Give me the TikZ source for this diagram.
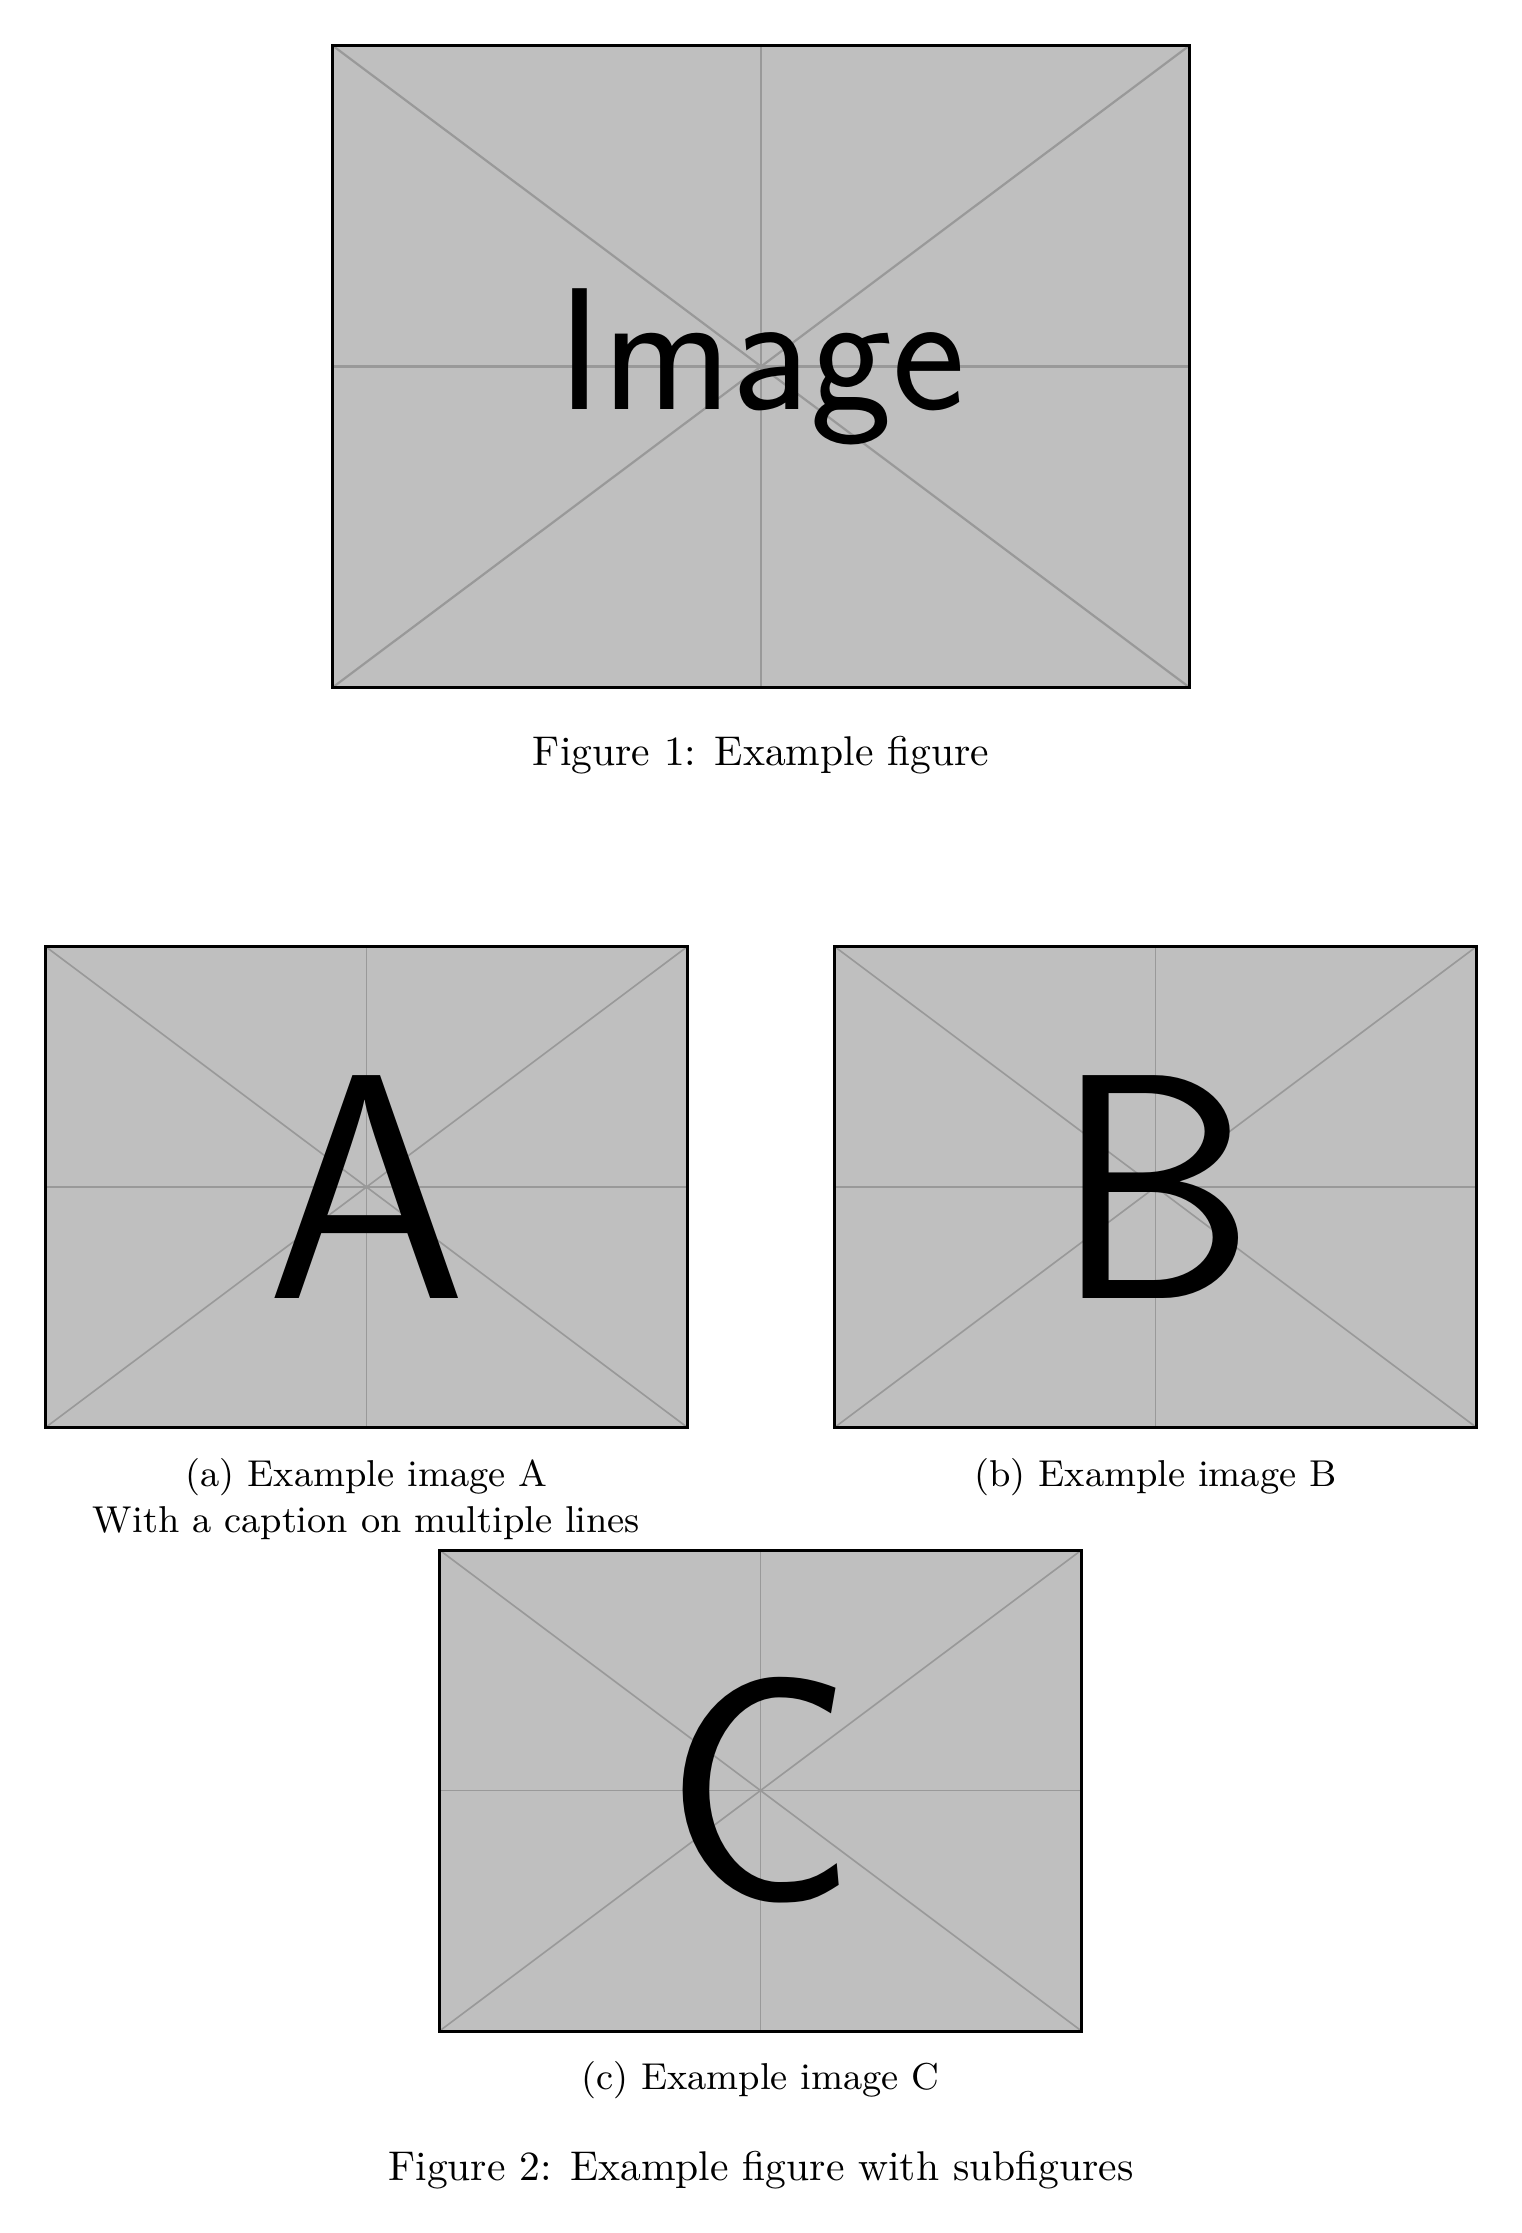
\documentclass[tikz,border=0pt]{standalone}
\usepackage{fontspec}
\begin{document}
\begin{tikzpicture}[x=0.24067pt,y=-0.24067pt,
  imgfill/.style={fill=black!25, inner sep=0pt, outer sep=0pt},
  bigimg/.style={imgfill, minimum width=206.25pt, minimum height=154.51pt},
  smallimg/.style={imgfill, minimum width=154.51pt, minimum height=115.76pt},
  guide/.style={draw=black!40, line width=#1},
  frame/.style={draw=black, line width=0.72pt},
  figcap/.style={inner sep=0pt, anchor=base, font=\normalsize},
  subcap/.style={inner sep=0pt, anchor=base, font=\small},
  bigword/.style={inner sep=0pt, font=\sffamily\fontsize{41.9pt}{50pt}\selectfont},
  bigletter/.style={inner sep=0pt, font=\sffamily\fontsize{77.3pt}{90pt}\selectfont}
]
\useasboundingbox (0,0) rectangle (1521,2233);

% Figure 1
\node[bigimg] (f1) at (761,366.5) {};
\draw[guide=0.53pt] (f1.north west) -- (f1.south east);
\draw[guide=0.53pt] (f1.south west) -- (f1.north east);
\draw[guide=0.53pt] (f1.north) -- (f1.south);
\draw[guide=0.53pt] (f1.west) -- (f1.east);
\node[bigword] (t1) at (f1.center) {Image};
\draw[frame] (f1.north west) rectangle (f1.south east);
\node[figcap] (c1) at (761,766) {Figure 1: Example figure};

% Subfigures
\foreach \n/\px/\py/\l in {fa/366.5/1187/A, fb/1155.5/1187/B, fc/760.5/1790.5/C}{
  \node[smallimg] (\n) at (\px,\py) {};
  \draw[guide=0.39pt] (\n.north west) -- (\n.south east);
  \draw[guide=0.39pt] (\n.south west) -- (\n.north east);
  \draw[guide=0.39pt] (\n.north) -- (\n.south);
  \draw[guide=0.39pt] (\n.west) -- (\n.east);
  \node[bigletter] (\n l) at (\n.center) {\l};
  \draw[frame] (\n.north west) rectangle (\n.south east);
}
\node[subcap] (ca1) at (366.5,1486.7) {(a) Example image A};
\node[subcap] (ca2) at (366.5,1532.7) {With a caption on multiple lines};
\node[subcap] (cb) at (1155.5,1486.7) {(b) Example image B};
\node[subcap] (cc) at (760.5,2089) {(c) Example image C};
\node[figcap] (c2) at (761,2180) {Figure 2: Example figure with subfigures};
\end{tikzpicture}
\end{document}
